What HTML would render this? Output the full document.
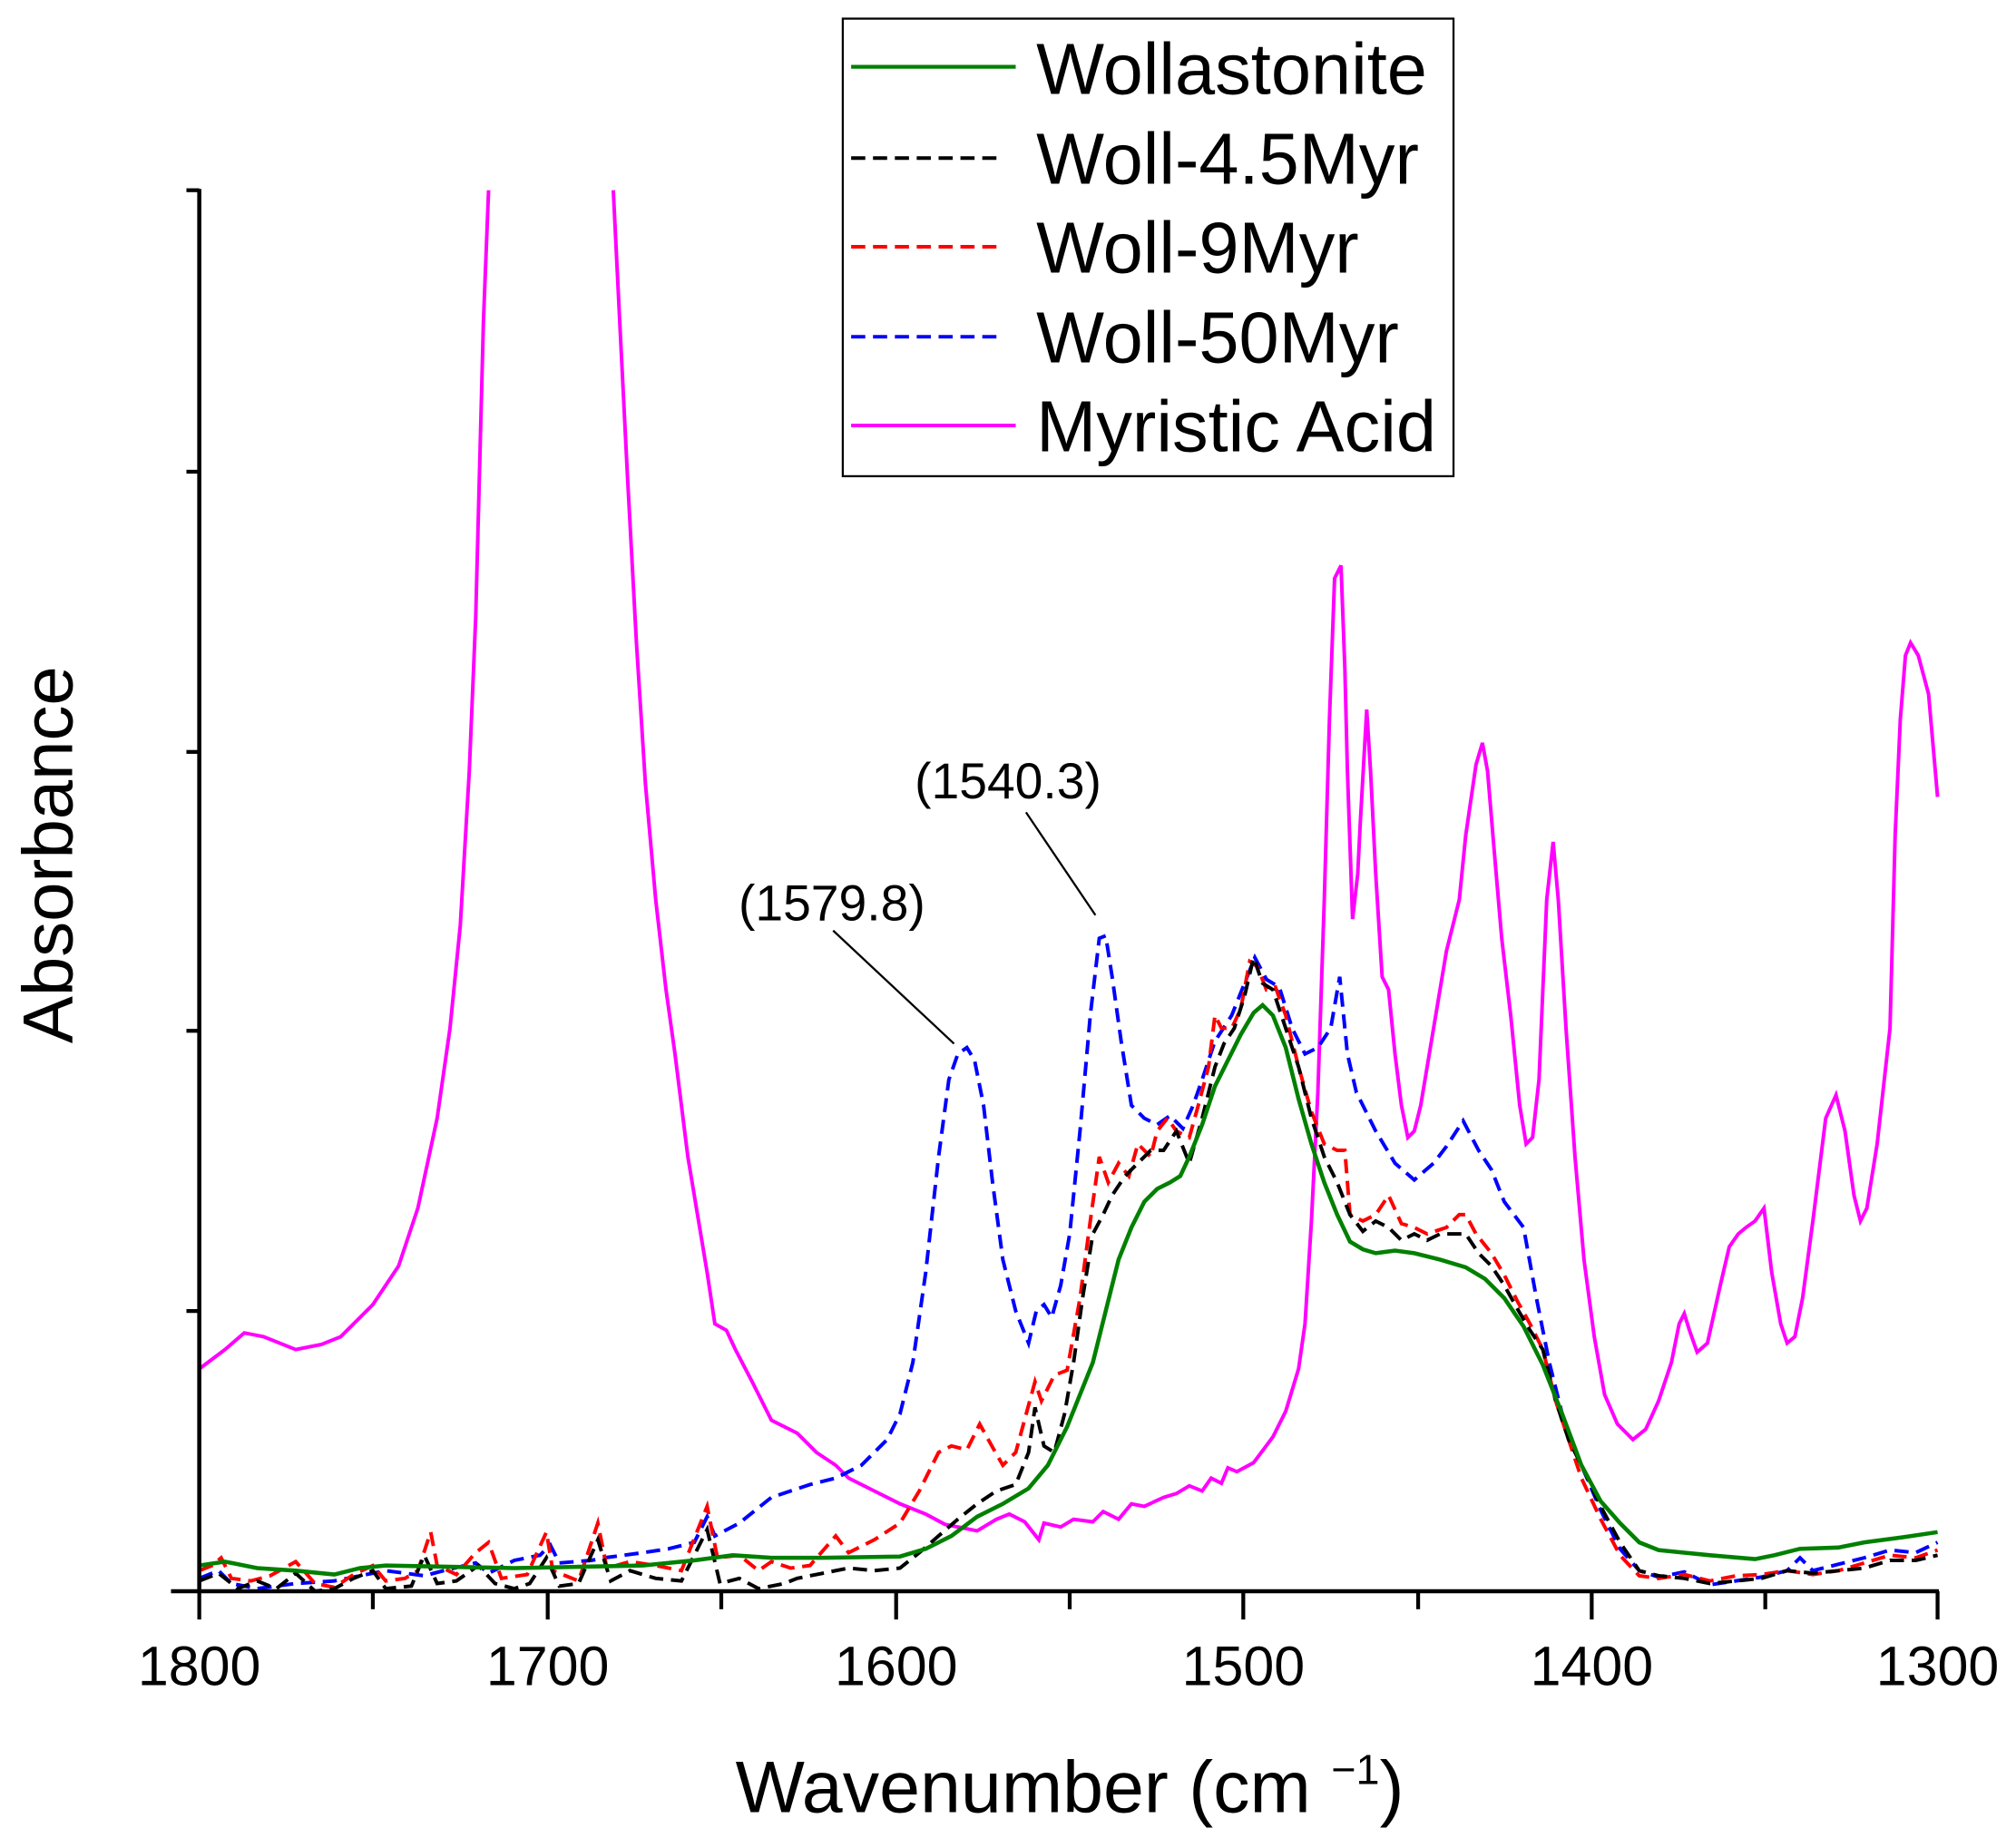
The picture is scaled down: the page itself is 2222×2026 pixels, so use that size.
<!DOCTYPE html>
<html><head><meta charset="utf-8"><style>
html,body{margin:0;padding:0;background:#fff;}
svg{display:block;}
text{font-family:"Liberation Sans",Arial,sans-serif;fill:#000;}
</style></head><body>
<svg width="2222" height="2026" viewBox="0 0 1568 1430" preserveAspectRatio="none" xmlns="http://www.w3.org/2000/svg">
<rect width="1568" height="1430" fill="#fff"/>
<!-- Myristic acid -->
<polyline fill="none" stroke="#ff00ff" stroke-width="2.8" points="155,1065 175,1050 190,1037 205,1040 230,1050 250,1046 265,1040 290,1015 310,985 325,940 340,870 350,800 358,720 365,600 370,480 376,250 380,148"/>
<polyline fill="none" stroke="#ff00ff" stroke-width="2.8" points="477,148 482,250 488,370 495,500 502,610 510,700 518,770 525,820 535,900 545,960 550,990 556,1030 565,1035 572,1050 585,1075 600,1105 620,1115 635,1130 650,1140 660,1150 680,1160 700,1170 720,1178 735,1186 760,1191 775,1182 785,1178 797,1184 808,1198 812,1185 825,1188 835,1182 850,1184 858,1176 870,1182 880,1170 890,1172 905,1165 915,1162 925,1156 935,1160 942,1150 950,1154 955,1142 962,1145 975,1138 990,1118 1000,1098 1010,1065 1015,1030 1020,950 1025,850 1030,700 1034,560 1038,450 1043,440 1046,520 1048,600 1052,715 1056,680 1058,640 1063,552 1066,600 1070,680 1075,760 1080,770 1085,820 1090,860 1095,885 1100,880 1105,860 1115,800 1125,740 1135,700 1140,650 1148,595 1153,578 1157,600 1162,660 1168,730 1175,790 1182,860 1187,890 1192,885 1197,840 1203,700 1208,655 1212,700 1218,800 1225,900 1232,980 1240,1040 1248,1085 1258,1108 1270,1120 1280,1112 1290,1090 1300,1060 1306,1030 1310,1022 1314,1035 1320,1052 1328,1045 1338,1000 1345,970 1352,960 1358,955 1365,950 1372,940 1378,990 1385,1030 1390,1045 1396,1040 1402,1010 1410,950 1420,870 1428,852 1435,880 1442,930 1447,950 1452,940 1460,890 1470,800 1474,650 1478,560 1482,510 1486,500 1492,510 1500,540 1507,620"/>
<!-- Blue dashed -->
<polyline fill="none" stroke="#0000ff" stroke-width="2.8" stroke-dasharray="11,6" points="155,1228 170,1222 180,1232 200,1236 230,1232 260,1230 280,1226 300,1222 330,1226 345,1222 370,1216 380,1224 400,1214 420,1210 428,1202 435,1216 460,1214 470,1212 500,1208 520,1205 540,1200 550,1180 556,1195 575,1185 600,1165 630,1155 650,1150 670,1140 690,1120 700,1100 710,1060 720,990 730,900 738,840 745,820 752,815 758,825 765,860 772,920 780,980 790,1020 800,1045 806,1020 812,1015 818,1025 825,1000 832,960 840,880 848,790 855,730 860,728 865,760 872,810 880,860 890,870 900,875 910,868 920,878 928,860 935,840 945,810 958,790 970,760 976,745 985,762 995,768 1005,800 1015,820 1025,815 1035,800 1042,760 1048,820 1055,850 1070,880 1085,905 1100,918 1115,905 1125,892 1138,872 1150,895 1160,910 1170,935 1185,955 1195,1010 1205,1060 1215,1100 1230,1140 1245,1175 1260,1205 1275,1222 1290,1227 1310,1223 1330,1233 1350,1230 1370,1227 1390,1222 1400,1212 1410,1222 1430,1217 1450,1212 1470,1206 1490,1208 1507,1200"/>
<!-- Red dashed -->
<polyline fill="none" stroke="#ff0000" stroke-width="2.8" stroke-dasharray="11,6" points="155,1222 165,1218 172,1212 180,1228 195,1230 210,1226 230,1215 245,1232 260,1235 275,1225 290,1218 300,1230 315,1228 325,1222 335,1192 340,1218 355,1225 370,1208 380,1200 390,1228 410,1225 425,1192 430,1222 450,1230 465,1185 472,1220 490,1215 510,1218 530,1222 550,1172 558,1212 575,1210 590,1222 600,1215 615,1220 630,1218 650,1195 660,1208 680,1198 700,1185 715,1160 730,1130 740,1125 752,1128 762,1108 772,1126 780,1140 790,1130 805,1075 810,1090 820,1070 830,1066 840,1010 848,950 855,900 862,920 870,905 878,915 885,890 895,900 900,880 908,870 915,880 925,885 932,860 940,830 945,790 950,800 958,800 965,785 972,748 978,752 985,770 992,768 1000,790 1010,830 1020,865 1030,890 1040,895 1046,895 1050,945 1060,950 1070,945 1080,930 1090,952 1100,955 1110,960 1125,955 1135,945 1140,945 1148,960 1160,975 1170,992 1180,1012 1190,1030 1200,1050 1210,1090 1220,1120 1230,1150 1245,1182 1260,1210 1275,1226 1290,1228 1310,1225 1330,1230 1350,1226 1370,1225 1390,1222 1410,1225 1430,1222 1450,1216 1470,1210 1490,1212 1507,1206"/>
<!-- Black dashed -->
<polyline fill="none" stroke="#000" stroke-width="2.8" stroke-dasharray="11,6" points="155,1230 170,1224 185,1236 200,1230 215,1236 230,1224 245,1238 260,1236 275,1228 290,1222 300,1236 320,1234 330,1210 340,1232 355,1230 372,1218 385,1232 400,1236 412,1232 425,1212 435,1234 450,1232 465,1198 475,1230 490,1222 510,1228 530,1230 550,1190 560,1232 575,1228 590,1236 610,1232 620,1228 640,1224 660,1220 680,1222 700,1220 715,1208 730,1195 745,1182 760,1170 775,1160 790,1155 800,1130 805,1095 812,1125 820,1130 828,1100 835,1060 842,1010 850,960 858,945 865,930 875,915 885,905 895,895 905,895 915,880 925,905 935,870 945,830 952,812 960,800 968,775 975,745 982,765 990,770 1000,800 1010,830 1020,870 1030,900 1040,920 1050,945 1060,958 1070,950 1080,955 1090,965 1100,960 1110,965 1120,960 1130,960 1140,960 1150,975 1160,985 1170,1000 1180,1018 1190,1035 1200,1050 1210,1090 1220,1120 1230,1140 1245,1172 1260,1200 1275,1222 1290,1226 1310,1228 1330,1232 1350,1230 1370,1228 1390,1222 1410,1224 1430,1222 1450,1220 1470,1214 1490,1214 1507,1210"/>
<!-- Green -->
<polyline fill="none" stroke="#008000" stroke-width="3.2" points="155,1218 175,1215 200,1220 230,1222 260,1225 280,1220 300,1218 350,1219 400,1220 450,1219 500,1218 540,1214 570,1210 600,1212 640,1212 700,1211 720,1205 740,1195 760,1180 780,1170 800,1158 815,1140 830,1110 842,1080 850,1060 860,1020 870,980 880,955 890,935 900,925 910,920 918,915 925,900 935,875 945,845 955,825 965,805 975,788 982,782 990,790 1000,815 1010,855 1020,890 1030,920 1040,945 1050,966 1060,972 1070,975 1085,973 1100,975 1120,980 1140,986 1155,995 1170,1010 1185,1032 1200,1062 1215,1100 1230,1140 1245,1168 1260,1185 1275,1200 1290,1206 1310,1208 1330,1210 1365,1213 1380,1210 1400,1205 1430,1204 1450,1200 1480,1196 1507,1192"/>
<!-- axes -->
<line x1="155" y1="147" x2="155" y2="1239" stroke="#000" stroke-width="3.2"/>
<line x1="133" y1="1238" x2="1508" y2="1238" stroke="#000" stroke-width="3.2"/>
<g stroke="#000" stroke-width="3">
<line x1="145" y1="148" x2="155" y2="148"/><line x1="145" y1="367" x2="155" y2="367"/><line x1="145" y1="585" x2="155" y2="585"/><line x1="145" y1="802" x2="155" y2="802"/><line x1="145" y1="1020" x2="155" y2="1020"/>
<line x1="155" y1="1238" x2="155" y2="1260"/><line x1="290" y1="1238" x2="290" y2="1252"/><line x1="426" y1="1238" x2="426" y2="1260"/><line x1="561" y1="1238" x2="561" y2="1252"/><line x1="697" y1="1238" x2="697" y2="1260"/><line x1="832" y1="1238" x2="832" y2="1252"/><line x1="967" y1="1238" x2="967" y2="1260"/><line x1="1103" y1="1238" x2="1103" y2="1252"/><line x1="1238" y1="1238" x2="1238" y2="1260"/><line x1="1373" y1="1238" x2="1373" y2="1252"/><line x1="1507" y1="1238" x2="1507" y2="1260"/>
</g>
<g font-size="43" text-anchor="middle">
<text x="155" y="1311">1800</text><text x="426" y="1311">1700</text><text x="697" y="1311">1600</text><text x="967" y="1311">1500</text><text x="1238" y="1311">1400</text><text x="1507" y="1311">1300</text>
</g>
<text x="832" y="1410" font-size="57" text-anchor="middle">Wavenumber (cm <tspan dy="-22" font-size="33">−1</tspan><tspan dy="22">)</tspan></text>
<text transform="translate(56,665) rotate(-90)" font-size="55" text-anchor="middle">Absorbance</text>
<!-- annotations -->
<text x="647" y="716" font-size="39" text-anchor="middle">(1579.8)</text>
<line x1="648" y1="724" x2="742" y2="812" stroke="#000" stroke-width="1.6"/>
<text x="784" y="621" font-size="39" text-anchor="middle">(1540.3)</text>
<line x1="798" y1="632" x2="852" y2="712" stroke="#000" stroke-width="1.6"/>
<!-- legend -->
<rect x="655.5" y="14.5" width="475" height="356" fill="#fff" stroke="#000" stroke-width="1.6"/>
<line x1="662" y1="52" x2="790" y2="52" stroke="#008000" stroke-width="3"/>
<line x1="662" y1="123" x2="780" y2="123" stroke="#000" stroke-width="2.8" stroke-dasharray="11,6"/>
<line x1="662" y1="192" x2="780" y2="192" stroke="#ff0000" stroke-width="2.8" stroke-dasharray="11,6"/>
<line x1="662" y1="262" x2="780" y2="262" stroke="#0000ff" stroke-width="2.8" stroke-dasharray="11,6"/>
<line x1="662" y1="331" x2="790" y2="331" stroke="#ff00ff" stroke-width="2.8"/>
<g font-size="56">
<text x="806" y="73">Wollastonite</text>
<text x="806" y="143">Woll-4.5Myr</text>
<text x="806" y="212">Woll-9Myr</text>
<text x="806" y="282">Woll-50Myr</text>
<text x="806" y="351">Myristic Acid</text>
</g>
</svg>
</body></html>
